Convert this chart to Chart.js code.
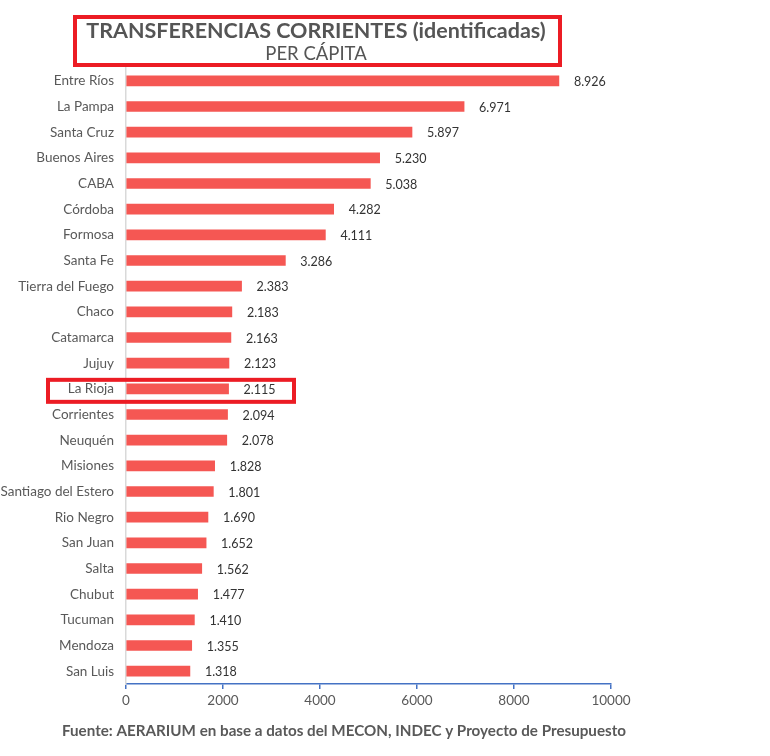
<!DOCTYPE html>
<html>
<head>
<meta charset="utf-8">
<script src="https://cdn.jsdelivr.net/npm/chart.js@4"></script>
<style>
  body { margin: 0; background: #fff; }
  #wrap { width: 770px; height: 756px; position: relative; }
</style>
</head>
<body>
<div id="wrap"><canvas id="myChart"></canvas></div>
<script>
const provincias = ['Entre Ríos','La Pampa','Santa Cruz','Buenos Aires','CABA','Córdoba','Formosa','Santa Fe',
  'Tierra del Fuego','Chaco','Catamarca','Jujuy','La Rioja','Corrientes','Neuquén','Misiones',
  'Santiago del Estero','Rio Negro','San Juan','Salta','Chubut','Tucuman','Mendoza','San Luis']
const valores = [8926,6971,5897,5230,5038,4282,4111,3286,2383,2183,2163,2123,2115,2094,2078,1828,1801,1690,1652,1562,1477,1410,1355,1318]
const xTicks = [0,2000,4000,6000,8000,10000]
const titulo = 'TRANSFERENCIAS CORRIENTES (identificadas)'
const subtitulo = 'PER CÁPITA'
const fuente = 'Fuente: AERARIUM en base a datos del MECON, INDEC y Proyecto de Presupuesto'
const destacada = 'La Rioja'

const FONT = 'Lato, "Open Sans", sans-serif'

function fmt(n){
  return n.toString().replace(/\B(?=(\d{3})+(?!\d))/g, '.')
}

// labels, title box, highlight box and footer
const extras = {
  id: 'extras',
  afterDatasetsDraw(chart){
    const ctx = chart.ctx
    const meta = chart.getDatasetMeta(0)
    ctx.save()
    ctx.font = '12.5px ' + FONT
    ctx.fillStyle = '#333'
    ctx.textBaseline = 'middle'
    ctx.textAlign = 'left'
    meta.data.forEach((bar, i) => {
      ctx.fillText(fmt(valores[i]), bar.x + 15, bar.y + 1)
    })

    // title box
    ctx.strokeStyle = '#ec1c24'
    ctx.lineWidth = 4
    ctx.strokeRect(75, 17, 485, 48)
    ctx.fillStyle = '#555'
    ctx.textAlign = 'center'
    ctx.font = 'bold 21.5px ' + FONT
    ctx.fillText(titulo, 316, 31)
    ctx.font = '18.5px ' + FONT
    ctx.fillText(subtitulo, 316, 54)

    // highlight box
    const idx = provincias.indexOf(destacada)
    const yc = chart.scales.y.getPixelForValue(idx)
    ctx.strokeRect(48, yc - 9, 246, 22)

    // footer
    ctx.fillStyle = '#595959'
    ctx.font = 'bold 15.2px ' + FONT
    ctx.fillText(fuente, 344, 731)
    ctx.restore()
  }
}

const ctx = document.getElementById('myChart').getContext('2d')
new Chart(ctx, {
  type: 'bar',
  data: {
    labels: provincias,
    datasets: [{
      data: valores,
      backgroundColor: '#f55753',
      barThickness: 10
    }]
  },
  options: {
    indexAxis: 'y',
    responsive: true,
    maintainAspectRatio: false,
    animation: false,
    layout: { padding: { top: 68, right: 159, bottom: 32, left: 0 } },
    plugins: { legend: { display: false }, tooltip: { enabled: false } },
    scales: {
      x: {
        min: 0, max: 10000,
        afterBuildTicks: s => { s.ticks = xTicks.map(v => ({ value: v })) },
        afterFit: s => { s.height = 40 },
        border: { color: '#4472c4', width: 1.5 },
        grid: { drawOnChartArea: false, drawTicks: true, tickLength: 5, color: '#4472c4', lineWidth: 1.5 },
        ticks: { color: '#595959', font: { family: FONT, size: 13.5 }, padding: 4, callback: v => String(v) }
      },
      y: {
        afterFit: s => { s.width = 126 },
        border: { color: '#d9d9d9', width: 1.5 },
        grid: { display: false, drawTicks: false },
        ticks: { color: '#595959', font: { family: FONT, size: 13.5 }, padding: 12 }
      }
    }
  },
  plugins: [extras]
})
</script>
</body>
</html>
